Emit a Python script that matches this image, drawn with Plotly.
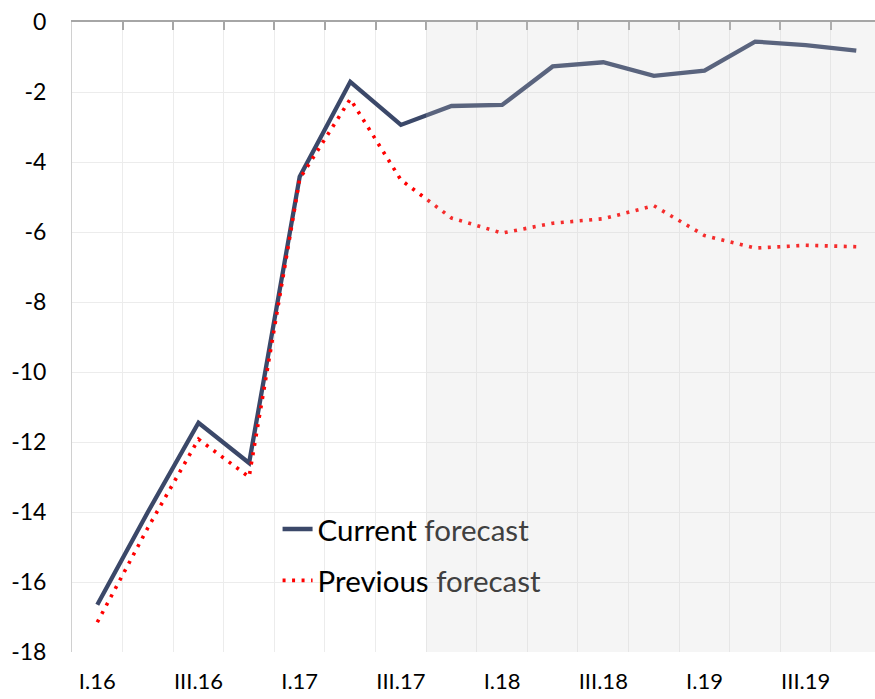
import plotly.graph_objects as go

# Quarterly categories, I.16 .. IV.19
quarters = ["I.16", "II.16", "III.16", "IV.16",
            "I.17", "II.17", "III.17", "IV.17",
            "I.18", "II.18", "III.18", "IV.18",
            "I.19", "II.19", "III.19", "IV.19"]

current_forecast = [-16.65, -14.0, -11.45, -12.6,
                    -4.42, -1.71, -2.94, -2.4,
                    -2.37, -1.27, -1.15, -1.54,
                    -1.39, -0.56, -0.66, -0.82]

previous_forecast = [-17.15, -14.45, -11.92, -13.0,
                     -4.48, -2.2, -4.51, -5.6,
                     -6.03, -5.75, -5.62, -5.25,
                     -6.1, -6.46, -6.38, -6.42]

y_ticks = [0, -2, -4, -6, -8, -10, -12, -14, -16, -18]
y_tick_text = ["0", "-2", "-4", "-6", "-8", "-10", "-12", "-14", "-16", "-18"]

first_forecast_quarter = "IV.17"

idx = list(range(len(quarters)))
label_idx = idx[::2]
boundaries = [i - 0.5 for i in idx] + [idx[-1] + 0.5]
x_range = [-0.5, 15.37]

fig = go.Figure()

fig.add_trace(go.Scatter(
    x=idx, y=current_forecast, mode="lines",
    name="Current <span style='color:#404040'>forecast</span>",
    line=dict(color="#3b4869", width=4.3),
    legendgroup="a",
))
fig.add_trace(go.Scatter(
    x=idx, y=previous_forecast, mode="lines",
    name="Previous <span style='color:#404040'>forecast</span>",
    line=dict(color="#ff0000", width=3.6, dash="3px,6.5px"),
    legendgroup="b",
))
# helper trace that anchors the top axis
fig.add_trace(go.Scatter(x=[idx[0]], y=[0], xaxis="x2", mode="markers",
                         marker=dict(opacity=0), showlegend=False,
                         hoverinfo="skip"))

# forecast horizon shading (semi-transparent, drawn over the lines)
fs = quarters.index(first_forecast_quarter) - 0.5
fig.add_shape(type="rect", xref="x", yref="paper", x0=fs, x1=x_range[1],
              y0=0, y1=1, fillcolor="rgba(207,207,207,0.21)",
              line=dict(width=0), layer="above")

font = "Lato, 'Open Sans', sans-serif"

fig.update_layout(
    width=875, height=699,
    margin=dict(l=72, r=0, t=22, b=47),
    plot_bgcolor="white", paper_bgcolor="white",
    font=dict(family=font, size=23, color="black"),
    showlegend=True,
    legend=dict(x=0.256, y=0.236, xanchor="left", yanchor="top",
                bgcolor="rgba(0,0,0,0)", font=dict(size=29.5, color="black"),
                tracegroupgap=10, itemwidth=30),
    xaxis=dict(range=x_range, tickmode="array", tickvals=label_idx,
               ticktext=[quarters[i] for i in label_idx],
               showgrid=False, zeroline=False, showline=False, ticks="",
               ticklabelstandoff=14, tickfont=dict(size=22),
               automargin=False),
    xaxis2=dict(overlaying="x", side="top", range=x_range,
                tickmode="array", tickvals=boundaries,
                showticklabels=False, showgrid=True, gridcolor="#ececec",
                gridwidth=1, showline=True, linecolor="#a6a6a6",
                linewidth=1.5, ticks="inside", ticklen=8,
                tickcolor="#a6a6a6", tickwidth=1.5, zeroline=False,
                automargin=False),
    yaxis=dict(range=[-18, 0], tickmode="array", tickvals=y_ticks,
               ticktext=y_tick_text, showgrid=True, gridcolor="#ececec",
               gridwidth=1, zeroline=False, showline=True,
               linecolor="#d0d0d0", linewidth=1, ticks="",
               ticklabelstandoff=20, tickfont=dict(size=23),
               automargin=False),
)

fig.write_html("out.html")
